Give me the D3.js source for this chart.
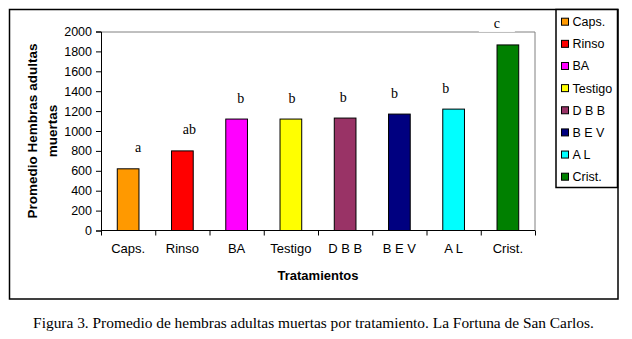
<!DOCTYPE html>
<html>
<head>
<meta charset="utf-8">
<script src="https://cdn.jsdelivr.net/npm/d3@7"></script>
<style>
  body { margin: 0; background: #fff; }
  svg { display: block; }
</style>
</head>
<body>
<div id="chart"></div>
<script>
// data
let treatments = ['Caps.', 'Rinso', 'BA', 'Testigo', 'D B B', 'B E V', 'A L', 'Crist.']
let means = [620, 800, 1120, 1120, 1130, 1170, 1220, 1865]
let groups = ['a', 'ab', 'b', 'b', 'b', 'b', 'b', 'c']
let colors = ['#FF9900', '#FF0000', '#FF00FF', '#FFFF00', '#993366', '#000080', '#00FFFF', '#008000']
let yTicks = [0, 200, 400, 600, 800, 1000, 1200, 1400, 1600, 1800, 2000]

let width = 632, height = 339
let margin = { top: 31.5, right: 97, bottom: 108.5, left: 101 }
let chartWidth = width - margin.left - margin.right
let chartHeight = height - margin.top - margin.bottom
let sans = 'Arial, "Liberation Sans", sans-serif'
let serif = '"Times New Roman", "Liberation Serif", serif'

let svg = d3.select('#chart').append('svg')
  .attr('width', width)
  .attr('height', height)

// outer frame
svg.append('rect')
  .attr('x', 9.5).attr('y', 9.5)
  .attr('width', 608.5).attr('height', 289.5)
  .attr('fill', 'none')
  .attr('stroke', '#000')
  .attr('stroke-width', 1.5)

let chartArea = svg.append('g')
  .attr('transform', 'translate(' + margin.left + ',' + margin.top + ')')

let xScale = d3.scaleBand()
  .domain(treatments)
  .range([0, chartWidth])
  .paddingInner(0.6)
  .paddingOuter(0.3)

let edgeScale = d3.scaleLinear()
  .domain([0, treatments.length])
  .range([0, chartWidth])

let yScale = d3.scaleLinear()
  .domain([0, 2000])
  .range([chartHeight, 0])

// plot area border (top and right, grey)
chartArea.append('path')
  .attr('d', 'M0,0.5H' + chartWidth + 'V' + chartHeight)
  .attr('fill', 'none')
  .attr('stroke', '#808080')
  .attr('stroke-width', 1)

// bars
chartArea.selectAll('rect.bar')
  .data(means)
  .enter()
  .append('rect')
  .attr('class', 'bar')
  .attr('x', function(d, i){ return xScale(treatments[i]) })
  .attr('y', function(d){ return yScale(d) })
  .attr('width', xScale.bandwidth())
  .attr('height', function(d){ return chartHeight - yScale(d) })
  .attr('fill', function(d, i){ return colors[i] })
  .attr('stroke', '#000')
  .attr('stroke-width', 1)

// y axis
let yAxis = chartArea.append('g')
  .call(d3.axisLeft(yScale).tickValues(yTicks).tickFormat(d3.format('d')).tickSize(5).tickPadding(4))
yAxis.select('.domain').attr('stroke', '#000')
yAxis.selectAll('text')
  .style('font-family', sans)
  .style('font-size', '12.5px')
  .attr('fill', '#000')

// x axis: tick marks between categories
let xAxis = chartArea.append('g')
  .attr('transform', 'translate(0,' + chartHeight + ')')
  .call(d3.axisBottom(edgeScale).tickValues(d3.range(treatments.length + 1)).tickSize(5).tickFormat(''))
xAxis.select('.domain').attr('d', 'M0.5,0H' + chartWidth).attr('stroke', '#000')

// category labels
let xLabels = chartArea.append('g')
  .attr('transform', 'translate(0,' + chartHeight + ')')
  .call(d3.axisBottom(xScale).tickSize(0).tickPadding(13))
xLabels.select('.domain').remove()
xLabels.selectAll('text')
  .style('font-family', sans)
  .style('font-size', '13px')
  .attr('fill', '#000')

// significance letters
chartArea.selectAll('g.letter')
  .data(groups)
  .enter()
  .append('g')
  .attr('class', 'letter')
  .attr('transform', function(d, i){
    let cx = xScale(treatments[i]) + xScale.bandwidth() / 2 + 10 - 3 * i
    let cy = yScale(means[i]) - 21
    return 'translate(' + cx + ',' + cy + ')'
  })
  .each(function(d){
    let g = d3.select(this)
    g.append('rect')
      .attr('x', -18).attr('y', -9)
      .attr('width', 36).attr('height', 17)
      .attr('fill', '#fff')
    g.append('text')
      .attr('text-anchor', 'middle')
      .attr('dy', '0.32em')
      .style('font-family', serif)
      .style('font-size', '14px')
      .attr('fill', '#000')
      .text(d)
  })

// axis titles
chartArea.append('text')
  .attr('x', chartWidth / 2)
  .attr('y', chartHeight + 49)
  .attr('text-anchor', 'middle')
  .style('font-family', sans)
  .style('font-size', '13px')
  .style('font-weight', 'bold')
  .text('Tratamientos')

let yTitle = svg.append('text')
  .attr('transform', 'translate(37,131) rotate(-90)')
  .attr('text-anchor', 'middle')
  .style('font-family', sans)
  .style('font-size', '13.5px')
  .style('font-weight', 'bold')
yTitle.append('tspan').attr('x', 0).attr('y', 0).text('Promedio Hembras adultas')
yTitle.append('tspan').attr('x', 0).attr('y', 20).text('muertas')

// legend
let legend = svg.append('g').attr('transform', 'translate(556,9.5)')
legend.append('rect')
  .attr('x', 0).attr('y', 0)
  .attr('width', 61.5).attr('height', 178)
  .attr('fill', '#fff')
  .attr('stroke', '#000')
  .attr('stroke-width', 1.5)

let legendY = d3.scaleLinear().domain([0, 7]).range([12.2, 167.2])
let items = legend.selectAll('g.item')
  .data(treatments)
  .enter()
  .append('g')
  .attr('class', 'item')
  .attr('transform', function(d, i){ return 'translate(0,' + legendY(i) + ')' })
items.append('rect')
  .attr('x', 5.5).attr('y', -3.5)
  .attr('width', 7).attr('height', 7)
  .attr('fill', function(d, i){ return colors[i] })
  .attr('stroke', '#000')
  .attr('stroke-width', 1)
items.append('text')
  .attr('x', 16.5)
  .attr('dy', '0.36em')
  .style('font-family', sans)
  .style('font-size', '12.5px')
  .text(function(d){ return d })

// caption
svg.append('text')
  .attr('x', 313.5)
  .attr('y', 328)
  .attr('text-anchor', 'middle')
  .style('font-family', serif)
  .style('font-size', '15.4px')
  .text('Figura 3. Promedio de hembras adultas muertas por tratamiento. La Fortuna de San Carlos.')
</script>
</body>
</html>
